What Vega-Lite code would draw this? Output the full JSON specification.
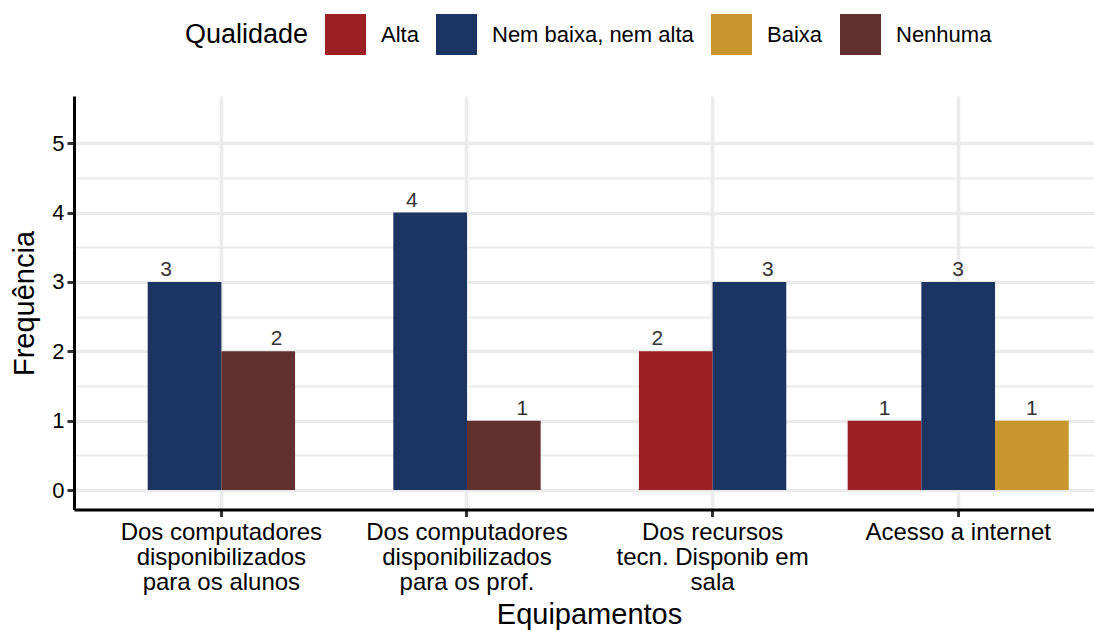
{
  "$schema": "https://vega.github.io/schema/vega-lite/v6.json",
  "width": 1020,
  "height": 413.5,
  "autosize": {"type": "none"},
  "padding": {"left": 74, "top": 96, "right": 0, "bottom": 120.5},
  "background": "white",
  "data": {
    "values": [
      {"Equipamentos": "Dos computadores disponibilizados para os alunos", "Qualidade": "Nem baixa, nem alta", "Frequencia": 3},
      {"Equipamentos": "Dos computadores disponibilizados para os alunos", "Qualidade": "Nenhuma", "Frequencia": 2},
      {"Equipamentos": "Dos computadores disponibilizados para os prof.", "Qualidade": "Nem baixa, nem alta", "Frequencia": 4},
      {"Equipamentos": "Dos computadores disponibilizados para os prof.", "Qualidade": "Nenhuma", "Frequencia": 1},
      {"Equipamentos": "Dos recursos tecn. Disponib em sala", "Qualidade": "Alta", "Frequencia": 2},
      {"Equipamentos": "Dos recursos tecn. Disponib em sala", "Qualidade": "Nem baixa, nem alta", "Frequencia": 3},
      {"Equipamentos": "Acesso a internet", "Qualidade": "Alta", "Frequencia": 1},
      {"Equipamentos": "Acesso a internet", "Qualidade": "Nem baixa, nem alta", "Frequencia": 3},
      {"Equipamentos": "Acesso a internet", "Qualidade": "Baixa", "Frequencia": 1}
    ]
  },
  "transform": [
    {"joinaggregate": [{"op": "count", "as": "n"}], "groupby": ["Equipamentos"]},
    {"window": [{"op": "row_number", "as": "i"}], "groupby": ["Equipamentos"]},
    {"calculate": "(datum.i - (datum.n + 1) / 2) * 4 + 6", "as": "barSlot"},
    {"calculate": "(datum.i - (datum.n + 1) / 2) * 12 / datum.n + 6", "as": "textSlot"}
  ],
  "encoding": {
    "x": {
      "field": "Equipamentos",
      "type": "nominal",
      "sort": ["Dos computadores disponibilizados para os alunos", "Dos computadores disponibilizados para os prof.", "Dos recursos tecn. Disponib em sala", "Acesso a internet"],
      "scale": {"paddingInner": 0, "paddingOuter": 0.0765, "align": 0.654},
      "title": "Equipamentos",
      "axis": {
        "bandPosition": 0.5,
        "grid": true,
        "gridColor": "#EBEBEB",
        "gridWidth": 3.6,
        "domainColor": "black",
        "domainWidth": 3,
        "tickColor": "#333333",
        "tickWidth": 3,
        "tickSize": 7,
        "labelAngle": 0,
        "labelFontSize": 24,
        "labelColor": "black",
        "labelLineHeight": 25,
        "labelPadding": 4,
        "labelLimit": 0,
        "labelBaseline": "top",
        "labelExpr": "datum.label == 'Dos computadores disponibilizados para os alunos' ? ['Dos computadores', 'disponibilizados', 'para os alunos'] : datum.label == 'Dos computadores disponibilizados para os prof.' ? ['Dos computadores', 'disponibilizados', 'para os prof.'] : datum.label == 'Dos recursos tecn. Disponib em sala' ? ['Dos recursos', 'tecn. Disponib em', 'sala'] : datum.label",
        "titleFontSize": 29,
        "titleFontWeight": "normal",
        "titleColor": "black",
        "titleX": 515,
        "titleY": 113.5,
        "titleAlign": "center",
        "titleBaseline": "alphabetic"
      }
    },
    "y": {
      "field": "Frequencia",
      "type": "quantitative",
      "scale": {"domain": [-0.28, 5.68], "nice": false, "zero": false},
      "title": "Frequência",
      "axis": {
        "values": [0, 0.5, 1, 1.5, 2, 2.5, 3, 3.5, 4, 4.5, 5],
        "labelExpr": "datum.value % 1 === 0 ? format(datum.value, 'd') : ''",
        "grid": true,
        "gridColor": "#EBEBEB",
        "gridWidth": {"condition": {"test": "datum.value % 1 !== 0", "value": 1.8}, "value": 3.6},
        "tickOpacity": {"condition": {"test": "datum.value % 1 !== 0", "value": 0}, "value": 1},
        "domainColor": "black",
        "domainWidth": 3,
        "tickColor": "#333333",
        "tickWidth": 3,
        "tickSize": 7,
        "labelFontSize": 22,
        "labelColor": "black",
        "labelPadding": 3,
        "titleFontSize": 29,
        "titleFontWeight": "normal",
        "titleColor": "black",
        "titleAngle": 270,
        "titleX": -41,
        "titleY": 207,
        "titleAlign": "center",
        "titleBaseline": "alphabetic"
      }
    }
  },
  "layer": [
    {
      "mark": {"type": "bar", "width": 73.7},
      "encoding": {
        "y2": {"datum": 0},
        "xOffset": {
          "field": "barSlot",
          "type": "ordinal",
          "scale": {"domain": [0, 1, 2, 3, 4, 5, 6, 7, 8, 9, 10, 11, 12], "paddingInner": 0, "paddingOuter": 0.1667}
        },
        "color": {
          "field": "Qualidade",
          "type": "nominal",
          "scale": {
            "domain": ["Alta", "Nem baixa, nem alta", "Baixa", "Nenhuma"],
            "range": ["#9B1F23", "#1B3461", "#C8962C", "#633030"]
          },
          "legend": {
            "orient": "none",
            "legendX": 111,
            "legendY": -82,
            "direction": "horizontal",
            "title": "Qualidade",
            "titleOrient": "left",
            "titleFontSize": 27,
            "titleFontWeight": "normal",
            "titleColor": "black",
            "titlePadding": 16,
            "titleAnchor": "middle",
            "titleBaseline": "middle",
            "labelFontSize": 22,
            "labelColor": "black",
            "labelLimit": 0,
            "labelOffset": 15,
            "columnPadding": 17,
            "symbolType": "square",
            "symbolSize": 1681,
            "symbolStrokeWidth": 0,
            "symbolOpacity": 1,
            "padding": 0
          }
        }
      }
    },
    {
      "mark": {"type": "text", "fontSize": 21, "color": "#333333", "baseline": "alphabetic", "dy": -6},
      "encoding": {
        "xOffset": {
          "field": "textSlot",
          "type": "ordinal",
          "scale": {"domain": [0, 1, 2, 3, 4, 5, 6, 7, 8, 9, 10, 11, 12], "paddingInner": 0, "paddingOuter": 0.1667}
        },
        "text": {"field": "Frequencia", "type": "quantitative"}
      }
    }
  ],
  "config": {
    "font": "Liberation Sans",
    "view": {"stroke": null}
  }
}
